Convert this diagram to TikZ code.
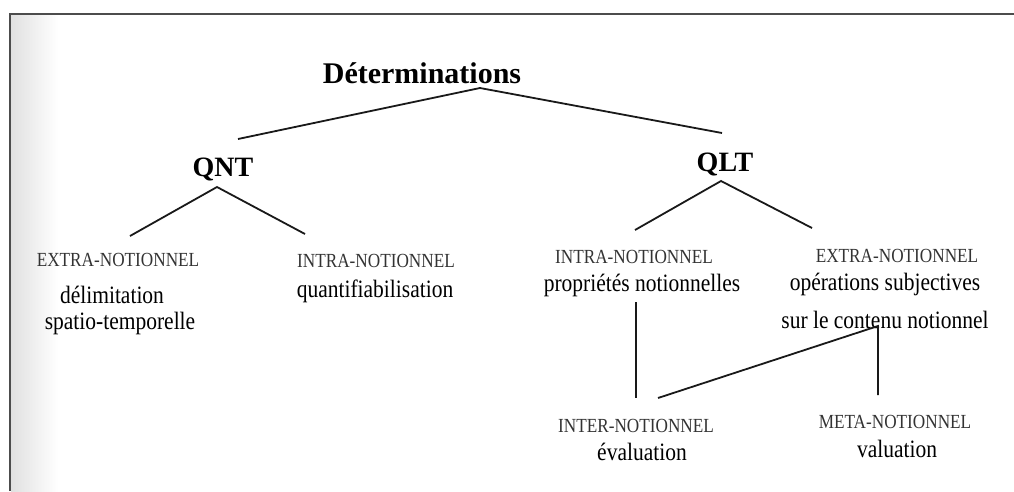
\documentclass[tikz,border=0pt]{standalone}
\usepackage{fontspec}
\setmainfont{Liberation Serif}
\newfontfamily\scanfont[FakeStretch=0.86]{Liberation Serif}
\usetikzlibrary{positioning}

\tikzset{
  head/.style={font=\fontsize{30}{36}\selectfont\bfseries, inner sep=0pt, anchor=base},
  branch/.style={font=\fontsize{28}{34}\selectfont\bfseries, inner sep=0pt, anchor=base},
  tag/.style={font=\scanfont\fontsize{20}{24}\selectfont, text=black!80, inner sep=0pt, anchor=base},
  sense/.style={font=\scanfont\fontsize{25}{30}\selectfont, inner sep=0pt, anchor=base},
  link/.style={line width=1.8pt, black!90},
}

\begin{document}
\begin{tikzpicture}[x=1pt,y=-1pt]
    \useasboundingbox (0,0) rectangle (1014,491);
    % Scanned page frame
    \shade[left color=black!12, right color=white] (11,15) rectangle (58,491);
    \draw[line width=1.5pt, black!70] (10,491) -- (10,14) -- (1014,14);

    % Top level
    \node[head] (det) at (422,83) {Déterminations};
    \node[branch] (qnt) at (223,176) {QNT};
    \node[branch] (qlt) at (725,171) {QLT};

    % QNT side
    \node[tag] (qntextra) at (118,266) {EXTRA-NOTIONNEL};
    \node[sense] (delim) at (112,303) {délimitation};
    \node[sense] (spatio) at (120,329) {spatio-temporelle};
    \node[tag] (qntintra) at (376,267) {INTRA-NOTIONNEL};
    \node[sense] (quant) at (375,297) {quantifiabilisation};

    % QLT side
    \node[tag] (qltintra) at (634,263) {INTRA-NOTIONNEL};
    \node[sense] (propr) at (642,291) {propriétés notionnelles};
    \node[tag] (qltextra) at (897,262) {EXTRA-NOTIONNEL};
    \node[sense] (opsubj) at (885,290) {opérations subjectives};
    \node[sense] (contenu) at (885,328) {sur le contenu notionnel};

    % Bottom level
    \node[tag] (inter) at (636,432) {INTER-NOTIONNEL};
    \node[sense] (evalu) at (642,460) {évaluation};
    \node[tag] (meta) at (895,428) {META-NOTIONNEL};
    \node[sense] (valu) at (897,457) {valuation};

    % Fork points and line ends
    \coordinate (detfork) at (480,88);
    \coordinate (detleft) at (238,139);
    \coordinate (detright) at (722,133);
    \coordinate (qntfork) at (217,187);
    \coordinate (qntleft) at (130,236);
    \coordinate (qntright) at (305,234);
    \coordinate (qltfork) at (721,181);
    \coordinate (qltleft) at (635,230);
    \coordinate (qltright) at (812,228);
    \coordinate (proprfoot) at (636,302);
    \coordinate (interhead) at (636,398);
    \coordinate (contfoot) at (878,326);
    \coordinate (evalhead) at (658,398);
    \coordinate (metahead) at (878,395);

    \draw[link] (detleft) -- (detfork) -- (detright);
    \draw[link] (qntleft) -- (qntfork) -- (qntright);
    \draw[link] (qltleft) -- (qltfork) -- (qltright);
    \draw[link] (proprfoot) -- (interhead);
    \draw[link] (evalhead) -- (contfoot) -- (metahead);
\end{tikzpicture}
\end{document}
